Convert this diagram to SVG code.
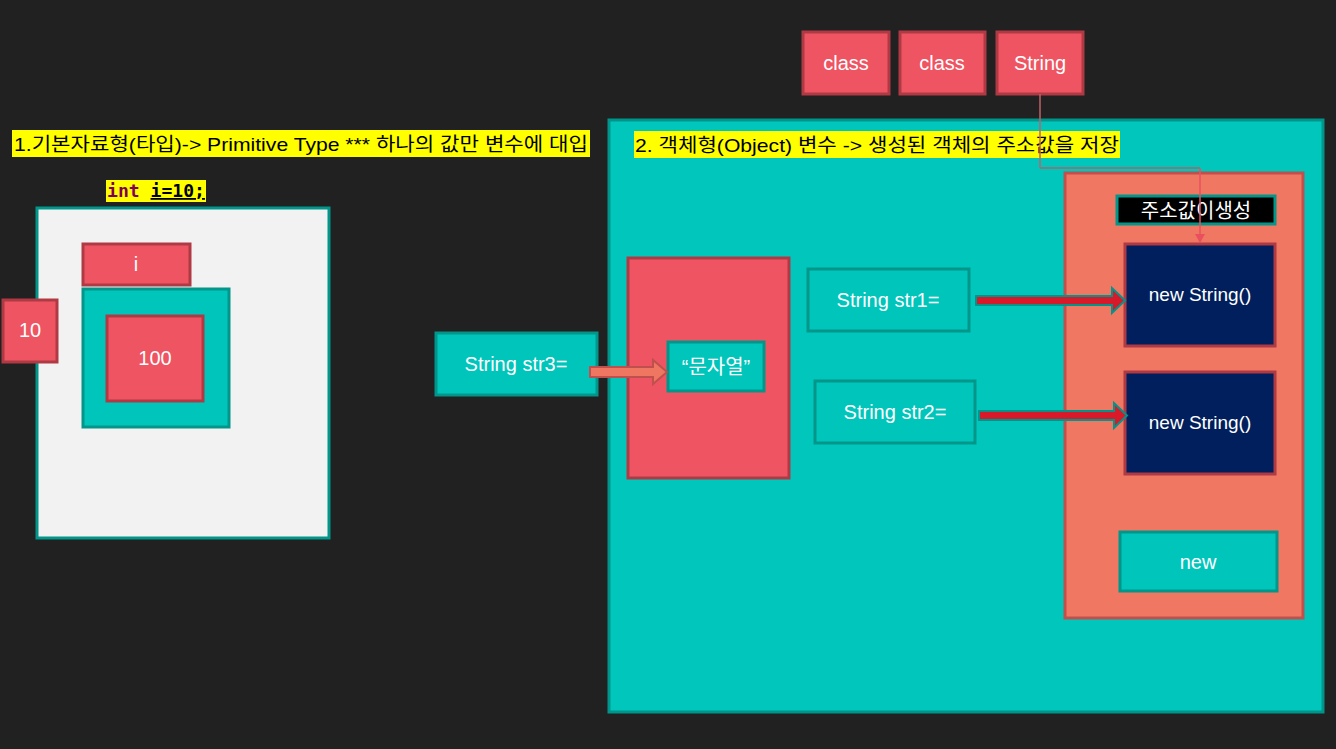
<svg xmlns="http://www.w3.org/2000/svg" width="1336" height="749" viewBox="0 0 1336 749">
<defs>
<style>
text{font-family:"Liberation Sans","Noto Sans CJK KR",sans-serif;}
.red{fill:#ee5461;stroke:#b03a44;stroke-width:3;}
.teal{fill:#00c5bb;stroke:#00968a;stroke-width:3;}
.navy{fill:#001f5c;stroke:#b03a44;stroke-width:3;}
.w{fill:#ffffff;font-size:20px;text-anchor:middle;}
.lab{fill:#000;font-size:19px;}
.hl{fill:#ffff00;}
.mono{font-family:"DejaVu Sans Mono","Liberation Mono",monospace;font-weight:bold;font-size:18px;}
</style>
<marker id="ah" markerWidth="10" markerHeight="10" refX="8" refY="5" orient="auto" markerUnits="userSpaceOnUse">
<path d="M0,0 L9,5 L0,10 z" fill="#e8505f"/>
</marker>
</defs>
<rect x="0" y="0" width="1336" height="749" fill="#212121"/>

<g id="label1">
<rect class="hl" x="12" y="130" width="578" height="27"/>
<text class="lab" x="14" y="151" textLength="574" lengthAdjust="spacingAndGlyphs">1.기본자료형(타입)-&gt; Primitive Type  *** 하나의 값만 변수에 대입</text>
</g>
<g id="code">
<rect class="hl" x="106" y="180" width="100" height="22"/>
<text class="mono" x="107" y="197" textLength="98" lengthAdjust="spacingAndGlyphs"><tspan fill="#7f0055">int</tspan><tspan fill="#000"> </tspan><tspan fill="#000" text-decoration="underline">i=10;</tspan></text>
</g>

<g id="stack">
<rect x="37" y="208" width="292" height="330" fill="#f2f2f2" stroke="#00968a" stroke-width="3"/>
</g>
<g id="var-i">
<rect class="red" x="83" y="244" width="107" height="41"/>
<text class="w" x="136" y="271">i</text>
</g>
<g id="slot">
<rect class="teal" x="83" y="289" width="146" height="138"/>
</g>
<g id="val100">
<rect class="red" x="107" y="316" width="96" height="85"/>
<text class="w" x="155" y="365">100</text>
</g>
<g id="val10">
<rect class="red" x="3" y="300" width="54" height="62"/>
<text class="w" x="30" y="337">10</text>
</g>

<g id="heap">
<rect x="609" y="120" width="714" height="592" fill="#00c6bc" stroke="#00958a" stroke-width="3"/>
</g>
<g id="label2">
<rect class="hl" x="634" y="131" width="486" height="27"/>
<text class="lab" x="635" y="152" textLength="484" lengthAdjust="spacingAndGlyphs">2. 객체형(Object) 변수 -&gt; 생성된 객체의 주소값을 저장</text>
</g>

<g id="class1">
<rect class="red" x="803" y="32" width="86" height="62"/>
<text class="w" x="846" y="70">class</text>
</g>
<g id="class2">
<rect class="red" x="900" y="32" width="85" height="62"/>
<text class="w" x="942" y="70">class</text>
</g>
<g id="classString">
<rect class="red" x="997" y="32" width="86" height="62"/>
<text class="w" x="1040" y="70">String</text>
</g>

<g id="pool">
<rect class="red" x="628" y="258" width="161" height="220"/>
</g>
<g id="literal">
<rect class="teal" x="668" y="342" width="96" height="49"/>
<text class="w" x="716" y="374">“문자열”</text>
</g>
<g id="str3">
<rect class="teal" x="436" y="333" width="161" height="62"/>
<text class="w" x="516" y="371">String str3=</text>
</g>
<g id="str1">
<rect class="teal" x="808" y="269" width="161" height="62"/>
<text class="w" x="888" y="307">String str1=</text>
</g>
<g id="str2">
<rect class="teal" x="815" y="381" width="160" height="62"/>
<text class="w" x="895" y="419">String str2=</text>
</g>

<g id="newarea">
<rect x="1065" y="173" width="238" height="445" fill="#f07762" stroke="#c0504d" stroke-width="3"/>
</g>
<g id="addrLabel">
<rect x="1117" y="196" width="158" height="28" fill="#000" stroke="#00968a" stroke-width="3"/>
<text class="w" x="1196" y="218">주소값이생성</text>
</g>
<g id="obj1">
<rect class="navy" x="1125" y="244" width="150" height="102"/>
<text class="w" x="1200" y="301" style="font-size:19px">new String()</text>
</g>
<g id="obj2">
<rect class="navy" x="1125" y="372" width="150" height="102"/>
<text class="w" x="1200" y="429" style="font-size:19px">new String()</text>
</g>
<g id="newBox">
<rect class="teal" x="1120" y="532" width="157" height="59"/>
<text class="w" x="1198" y="569">new</text>
</g>

<g id="connectors">
<path d="M1040,94 V168" fill="none" stroke="#c0606a" stroke-width="1.5"/>
<path d="M1040,168 H1200" fill="none" stroke="#7d7d7d" stroke-width="2"/>
<path d="M1200,168 V242" fill="none" stroke="#e8505f" stroke-width="1.5" marker-end="url(#ah)"/>
<path d="M590,367 H653 V360 L667,372 L653,384 V377 H590 Z" fill="#ef7661" stroke="#c0504d" stroke-width="2"/>
<path d="M976,296 H1112 V288 L1125,300.5 L1112,313 V305 H976 Z" fill="#d7192a" stroke="#00958a" stroke-width="2"/>
<path d="M979,411 H1114 V403 L1127,415.5 L1114,428 V420 H979 Z" fill="#d7192a" stroke="#00958a" stroke-width="2"/>
</g>
</svg>
